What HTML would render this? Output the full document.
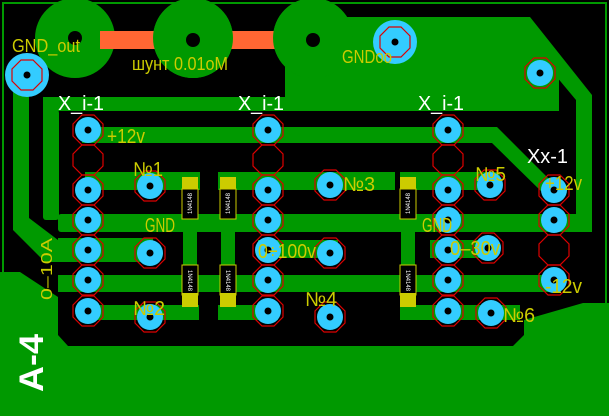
<!DOCTYPE html>
<html><head><meta charset="utf-8"><style>
html,body{margin:0;padding:0;background:#000;width:609px;height:416px;overflow:hidden}
svg{display:block}
text{font-family:"Liberation Sans","DejaVu Sans",sans-serif}
</style></head><body>
<svg width="609" height="416" viewBox="0 0 609 416" xmlns="http://www.w3.org/2000/svg">
<rect width="609" height="416" fill="#000"/>
<rect x="3" y="3" width="603" height="410" fill="none" stroke="#009900" stroke-width="2"/>
<g fill="#009900">
<polygon points="285,72 285,20 346,17 516,17 559,70 559,110 60,110 58,112 43,128 43,97 285,97"/>
<rect x="43" y="97" width="516" height="14"/>
<rect x="43" y="110" width="16" height="110" rx="3"/>
<polygon points="516,17 530,17 592,95 592,232 576,232 576,100 516,28"/>
<rect x="58" y="214" width="534" height="18" rx="3"/>
<polygon points="13,75 29,75 29,218 58,240 58,262 45,262 13,230"/>
<polygon points="82,127 497,127 555,185 545,195 492,143 82,143"/>
<rect x="85" y="172" width="115" height="18"/>
<rect x="218" y="172" width="177" height="18"/>
<rect x="400" y="172" width="100" height="18"/>
<rect x="58" y="238" width="95" height="24"/>
<rect x="258" y="240" width="80" height="18"/>
<rect x="430" y="240" width="60" height="18"/>
<rect x="58" y="275" width="500" height="17"/>
<rect x="89" y="305" width="110" height="15"/>
<rect x="218" y="305" width="60" height="15"/>
<rect x="400" y="305" width="120" height="15"/>
<rect x="183" y="230" width="14" height="36"/>
<rect x="221" y="230" width="14" height="36"/>
<rect x="401" y="230" width="14" height="36"/>
<polygon points="0,272 20,272 58,297 58,335 68,346 513,346 524,335 524,320 583,303 609,303 609,416 0,416"/>
<circle cx="75" cy="38" r="40"/>
<circle cx="193" cy="38" r="40"/>
<circle cx="313" cy="38" r="40"/>
</g>
<rect x="100" y="31" width="190" height="18" fill="#ff6633"/>
<circle cx="193" cy="38" r="40" fill="#009900"/>
<circle cx="313" cy="38" r="40" fill="#009900"/>
<circle cx="75" cy="38" r="7" fill="#000"/>
<circle cx="193" cy="40" r="7" fill="#000"/>
<circle cx="313" cy="40" r="7" fill="#000"/>
<circle cx="395" cy="42" r="22" fill="#33ccff"/>
<circle cx="27" cy="75" r="22" fill="#33ccff"/>
<g>
<rect x="182" y="177" width="16" height="14" fill="#cccc00"/>
<rect x="220" y="177" width="16" height="14" fill="#cccc00"/>
<rect x="400" y="177" width="16" height="14" fill="#cccc00"/>
<rect x="182" y="189" width="16" height="30" fill="#000" stroke="#cccc00"/>
<rect x="220" y="189" width="16" height="30" fill="#000" stroke="#cccc00"/>
<rect x="400" y="189" width="16" height="30" fill="#000" stroke="#cccc00"/>
<rect x="182" y="265" width="16" height="30" fill="#000" stroke="#cccc00"/>
<rect x="220" y="265" width="16" height="30" fill="#000" stroke="#cccc00"/>
<rect x="400" y="265" width="16" height="30" fill="#000" stroke="#cccc00"/>
<rect x="182" y="293" width="16" height="14" fill="#cccc00"/>
<rect x="220" y="293" width="16" height="14" fill="#cccc00"/>
<rect x="400" y="293" width="16" height="14" fill="#cccc00"/>
<g fill="#fff" font-size="6">
<text transform="translate(192,214) rotate(-90)">1N4148</text>
<text transform="translate(230,214) rotate(-90)">1N4148</text>
<text transform="translate(410,214) rotate(-90)">1N4148</text>
<text transform="translate(188,270) rotate(90)">1N4148</text>
<text transform="translate(226,270) rotate(90)">1N4148</text>
<text transform="translate(406,270) rotate(90)">1N4148</text>
</g>
</g>
<defs>
<g id="oct"><polygon points="-6,-15 6,-15 15,-6 15,6 6,15 -6,15 -15,6 -15,-6" fill="none" stroke="#dd0000" stroke-width="1.2"/></g>
<g id="pad"><circle r="13" fill="#33ccff"/><use href="#oct"/><circle r="3.5" fill="#000"/></g>
</defs>
<g>
<use href="#pad" x="395" y="42"/><use href="#pad" x="27" y="75"/><use href="#pad" x="540" y="73"/>
<use href="#pad" x="88" y="130"/><use href="#oct" x="88" y="160"/><use href="#pad" x="88" y="190"/><use href="#pad" x="88" y="220"/><use href="#pad" x="88" y="250"/><use href="#pad" x="88" y="280"/><use href="#pad" x="88" y="311"/>
<use href="#pad" x="268" y="130"/><use href="#oct" x="268" y="160"/><use href="#pad" x="268" y="190"/><use href="#pad" x="268" y="220"/><use href="#pad" x="268" y="250"/><use href="#pad" x="268" y="280"/><use href="#pad" x="268" y="311"/>
<use href="#pad" x="448" y="130"/><use href="#oct" x="448" y="160"/><use href="#pad" x="448" y="190"/><use href="#pad" x="448" y="220"/><use href="#pad" x="448" y="250"/><use href="#pad" x="448" y="280"/><use href="#pad" x="448" y="311"/>
<use href="#pad" x="554" y="190"/><use href="#pad" x="554" y="220"/><use href="#oct" x="554" y="250"/><use href="#pad" x="554" y="280"/>
<use href="#pad" x="150" y="186"/><use href="#pad" x="150" y="253"/><use href="#pad" x="150" y="317"/>
<use href="#pad" x="330" y="185"/><use href="#pad" x="330" y="253"/><use href="#pad" x="330" y="317"/>
<use href="#pad" x="490" y="185"/><use href="#pad" x="488" y="248"/><use href="#pad" x="491" y="313"/>
</g>
<g fill="#cccc00" font-size="20" lengthAdjust="spacingAndGlyphs">
<text x="12" y="52" font-size="18" textLength="68" lengthAdjust="spacingAndGlyphs">GND_out</text>
<text x="132" y="70" font-size="18" textLength="96" lengthAdjust="spacingAndGlyphs">шунт 0.01оМ</text>
<text x="342" y="63" font-size="18" textLength="50" lengthAdjust="spacingAndGlyphs">GNDoo</text>
<text x="107" y="143" textLength="38" lengthAdjust="spacingAndGlyphs">+12v</text>
<text x="133" y="176" textLength="30" lengthAdjust="spacingAndGlyphs">№1</text>
<text x="343" y="191" textLength="32" lengthAdjust="spacingAndGlyphs">№3</text>
<text x="475" y="181" textLength="31" lengthAdjust="spacingAndGlyphs">№5</text>
<text x="545" y="190" textLength="37" lengthAdjust="spacingAndGlyphs">+12v</text>
<text x="145" y="232" textLength="30" lengthAdjust="spacingAndGlyphs">GND</text>
<text x="422" y="232" textLength="30" lengthAdjust="spacingAndGlyphs">GND</text>
<text x="258" y="258" textLength="58" lengthAdjust="spacingAndGlyphs">0÷100v</text>
<text x="450" y="255" textLength="50" lengthAdjust="spacingAndGlyphs">0–30v</text>
<text x="545" y="293" textLength="37" lengthAdjust="spacingAndGlyphs">-12v</text>
<text x="133" y="315" textLength="32" lengthAdjust="spacingAndGlyphs">№2</text>
<text x="305" y="306" textLength="32" lengthAdjust="spacingAndGlyphs">№4</text>
<text x="503" y="322" textLength="32" lengthAdjust="spacingAndGlyphs">№6</text>
<text transform="translate(52,300) rotate(-90)" font-size="16" textLength="62" lengthAdjust="spacingAndGlyphs">0–10A</text>
</g>
<g fill="#fff" font-size="20">
<text x="58" y="110" textLength="46" lengthAdjust="spacingAndGlyphs">X_i-1</text>
<text x="238" y="110" textLength="46" lengthAdjust="spacingAndGlyphs">X_i-1</text>
<text x="418" y="110" textLength="46" lengthAdjust="spacingAndGlyphs">X_i-1</text>
<text x="527" y="163" textLength="41" lengthAdjust="spacingAndGlyphs">Xx-1</text>
<text transform="translate(43,392) rotate(-90)" font-size="34" font-weight="bold" textLength="58" lengthAdjust="spacingAndGlyphs">A-4</text>
</g>
</svg>
</body></html>
